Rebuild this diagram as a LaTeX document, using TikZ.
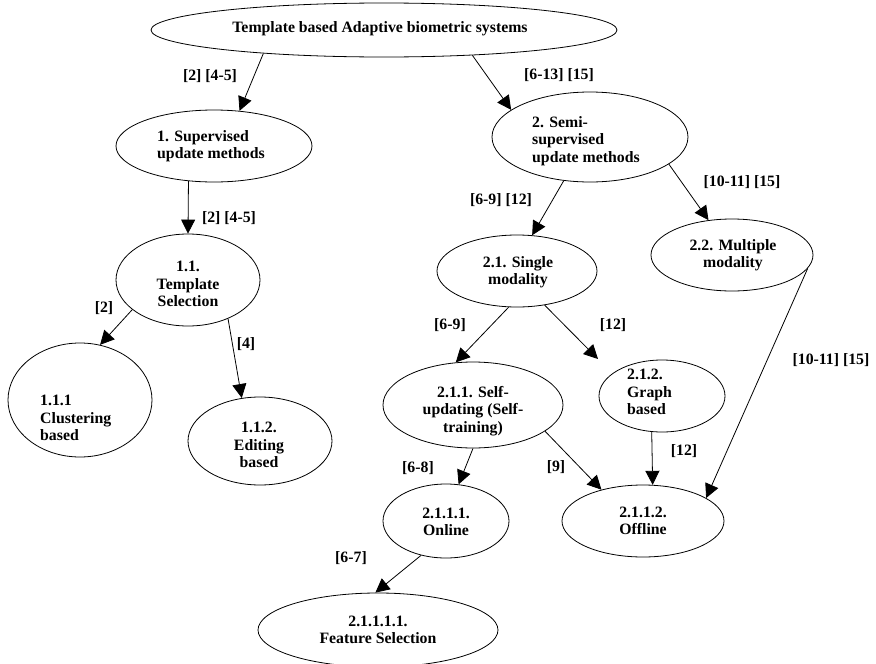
\documentclass[tikz,border=0pt]{standalone}
\usepackage{fontspec}
\setmainfont{Liberation Serif}
\usetikzlibrary{shapes.geometric,arrows.meta,calc}
\begin{document}
\begin{tikzpicture}[x=1pt,y=-1pt,
  oval/.style={draw,ellipse,inner sep=0pt,line width=0.8pt},
  txt/.style={font=\bfseries\fontsize{15.8}{17.5}\selectfont,inner sep=0pt},
  lbl/.style={font=\bfseries\fontsize{15.8}{17.5}\selectfont,inner sep=0pt},
  arr/.style={line width=0.8pt,-{Triangle[length=14pt,width=14pt]}}]
\useasboundingbox (0,0) rectangle (876,664);
% ellipses
\node[oval,minimum width=466pt,minimum height=54pt] (root) at (384,30) {};
\node[oval,minimum width=196pt,minimum height=72pt] (sup) at (214,146) {};
\node[oval,minimum width=196pt,minimum height=90pt] (semi) at (590,137) {};
\node[oval,minimum width=144pt,minimum height=92pt] (tmpl) at (188,280) {};
\node[oval,minimum width=144pt,minimum height=114pt] (clus) at (80,400) {};
\node[oval,minimum width=144pt,minimum height=88pt] (edit) at (260,441) {};
\node[oval,minimum width=162pt,minimum height=72pt] (multi) at (732,255) {};
\node[oval,minimum width=160pt,minimum height=72pt] (single) at (517,271) {};
\node[oval,minimum width=180pt,minimum height=86pt] (self) at (473,405) {};
\node[oval,minimum width=126pt,minimum height=72pt] (graph) at (662,396) {};
\node[oval,minimum width=126pt,minimum height=74pt] (online) at (446,521) {};
\node[oval,minimum width=162pt,minimum height=72pt] (offline) at (643,521) {};
\node[oval,minimum width=240pt,minimum height=74pt] (feat) at (378,630) {};
% texts
\node[txt] (rootT) at (380,29) {Template based Adaptive biometric systems};
\node[txt,anchor=west,align=left] (supT) at (157,146) {1. Supervised\\update methods};
\node[txt,anchor=west,align=left] (semiT) at (532,141) {2. Semi-\\supervised\\update methods};
\node[txt,align=center] (tmplT) at (188,284) {1.1.\\Template\\Selection};
\node[txt,anchor=west,align=left] (clusT) at (40,418) {1.1.1\\Clustering\\based};
\node[txt,align=center] (editT) at (259,445) {1.1.2.\\Editing\\based};
\node[txt,align=center] (multiT) at (733,255) {2.2. Multiple\\modality};
\node[txt,align=center] (singleT) at (518,272) {2.1. Single\\modality};
\node[txt,align=center] (selfT) at (473,411) {2.1.1. Self-\\updating (Self-\\training)};
\node[txt,anchor=west,align=left] (graphT) at (627,392) {2.1.2.\\Graph\\based};
\node[txt,align=center] (onlineT) at (446,522) {2.1.1.1.\\Online};
\node[txt,align=center] (offlineT) at (643,521) {2.1.1.2.\\Offline};
\node[txt,align=center] (featT) at (378,630) {2.1.1.1.1.\\Feature Selection};
% connectors
\draw[arr] (root.191) -- (sup.54);
\draw[arr] (root.344.5) -- (semi.161);
\draw[arr] (sup.234) -- (tmpl.90);
\draw[arr] (tmpl.208.6) -- (clus.70.7);
\draw[arr] (tmpl.316.5) -- (edit.113.4);
\draw[arr] (semi.239) -- (single.67.4);
\draw[arr] (semi.341) -- (multi.124.8);
\draw[arr] (single.257.5) -- (self.112.7);
\draw[arr] (single.309.6) -- ($(graph.center)+(-64,-37)$);
\draw[arr] (self.270) -- (online.71.6);
\draw[arr] (self.340) -- (offline.143);
\draw[arr] (graph.254.5) -- (offline.75.6);
\draw[arr] (multi.350.3) -- (offline.20.6);
\draw[arr] (online.234.2) -- (feat.94.6);
% labels
\node[lbl] (l1) at (210,76) {[2] [4-5]};
\node[lbl] (l2) at (559,75) {[6-13] [15]};
\node[lbl] (l3) at (229,218) {[2] [4-5]};
\node[lbl] (l4) at (104,308) {[2]};
\node[lbl] (l5) at (246,344) {[4]};
\node[lbl] (l6) at (501,200) {[6-9] [12]};
\node[lbl] (l7) at (742,182) {[10-11] [15]};
\node[lbl] (l8) at (450,325) {[6-9]};
\node[lbl] (l9) at (613,325) {[12]};
\node[lbl] (l10) at (831,360) {[10-11] [15]};
\node[lbl] (l11) at (418,468) {[6-8]};
\node[lbl] (l12) at (556,467) {[9]};
\node[lbl] (l13) at (684,451) {[12]};
\node[lbl] (l14) at (351,558) {[6-7]};
\end{tikzpicture}
\end{document}
